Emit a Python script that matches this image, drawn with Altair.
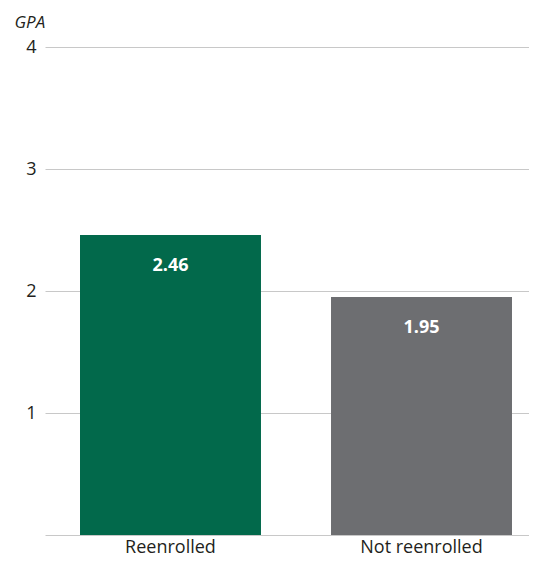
import altair as alt
import pandas as pd

categories = ["Reenrolled", "Not reenrolled"]
gpa = [2.46, 1.95]
labels = ["2.46", "1.95"]
colors = ["#02694B", "#6D6E71"]

df = pd.DataFrame({"group": categories, "gpa": gpa, "label": labels})

FONT = "Open Sans"

x = alt.X("group:N", sort=categories, title=None,
          scale=alt.Scale(paddingInner=0.279, paddingOuter=0.1036, align=0.673),
          axis=alt.Axis(labelAngle=0, ticks=False, domain=False, grid=False, labelFontSize=18,
                        labelColor="#231F20", labelPadding=17, labelBaseline="alphabetic",
                        labelFont=FONT))
y = alt.Y("gpa:Q", title="GPA",
          scale=alt.Scale(domain=[0, 4], nice=False),
          axis=alt.Axis(values=[0, 1, 2, 3, 4], ticks=False, domain=False, format="d",
                        labelExpr="datum.value == 0 ? '' : datum.label",
                        labelFontSize=18, labelColor="#231F20", labelPadding=9, labelFont=FONT,
                        gridColor="#C8C8C8", gridWidth=1,
                        titleAngle=0, titleX=-31, titleY=-20, titleAlign="left",
                        titleBaseline="alphabetic", titleFontStyle="italic",
                        titleFontWeight="normal", titleFontSize=17, titleColor="#231F20",
                        titleFont=FONT))

base = alt.Chart(df).encode(x=x, y=y)

bars = base.mark_bar().encode(
    color=alt.Color("group:N", scale=alt.Scale(domain=categories, range=colors), legend=None),
)

text = base.mark_text(color="white", fontWeight="bold", fontSize=18, font=FONT,
                      baseline="middle", dy=31).encode(text="label:N")

chart = (bars + text).properties(
    width=484, height=488,
    background="white",
    autosize=alt.AutoSizeParams(type="none"),
    padding={"left": 37, "top": 39, "right": 0, "bottom": 22},
).configure_view(stroke="transparent", strokeWidth=0)

chart.save("out.html", embed_options={"renderer": "svg", "actions": False})
